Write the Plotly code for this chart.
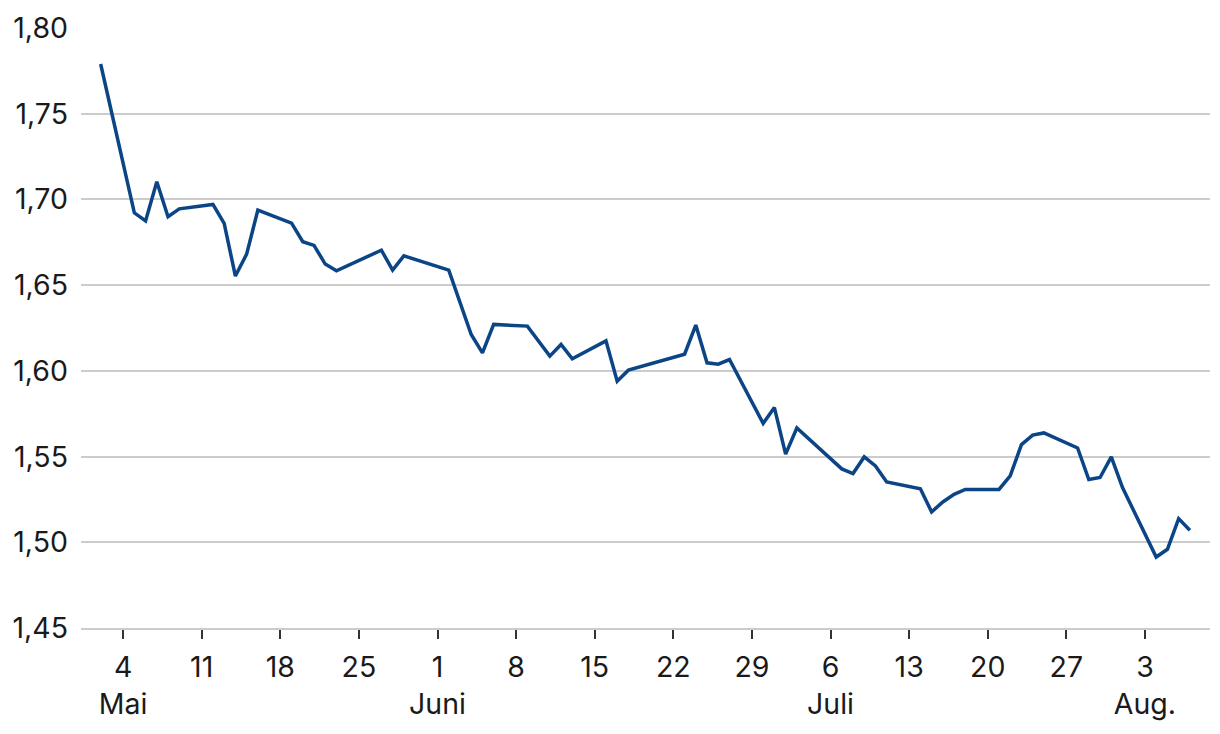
import plotly.graph_objects as go

dates = [
    "2025-05-02", "2025-05-05", "2025-05-06", "2025-05-07", "2025-05-08", "2025-05-09",
    "2025-05-12", "2025-05-13", "2025-05-14", "2025-05-15", "2025-05-16",
    "2025-05-19", "2025-05-20", "2025-05-21", "2025-05-22", "2025-05-23",
    "2025-05-27", "2025-05-28", "2025-05-29",
    "2025-06-02", "2025-06-04", "2025-06-05", "2025-06-06",
    "2025-06-09", "2025-06-11", "2025-06-12", "2025-06-13",
    "2025-06-16", "2025-06-17", "2025-06-18",
    "2025-06-23", "2025-06-24", "2025-06-25", "2025-06-26", "2025-06-27",
    "2025-06-30", "2025-07-01", "2025-07-02", "2025-07-03",
    "2025-07-07", "2025-07-08", "2025-07-09", "2025-07-10", "2025-07-11",
    "2025-07-14", "2025-07-15", "2025-07-16", "2025-07-17", "2025-07-18",
    "2025-07-21", "2025-07-22", "2025-07-23", "2025-07-24", "2025-07-25",
    "2025-07-28", "2025-07-29", "2025-07-30", "2025-07-31", "2025-08-01",
    "2025-08-04", "2025-08-05", "2025-08-06", "2025-08-07",
]
values = [
    1.7790, 1.6922, 1.6875, 1.7103, 1.6899, 1.6945,
    1.6971, 1.6860, 1.6553, 1.6681, 1.6938,
    1.6862, 1.6753, 1.6732, 1.6623, 1.6584,
    1.6704, 1.6588, 1.6671,
    1.6588, 1.6212, 1.6105, 1.6271,
    1.6261, 1.6086, 1.6154, 1.6070,
    1.6175, 1.5940, 1.6004,
    1.6097, 1.6267, 1.6047, 1.6039, 1.6066,
    1.5693, 1.5786, 1.5514, 1.5667,
    1.5428, 1.5401, 1.5498, 1.5445, 1.5352,
    1.5312, 1.5177, 1.5235, 1.5280, 1.5308,
    1.5308, 1.5387, 1.5570, 1.5625, 1.5638,
    1.5550, 1.5366, 1.5378, 1.5498, 1.5319,
    1.4914, 1.4959, 1.5138, 1.5070,
]

tick_dates = [
    "2025-05-04", "2025-05-11", "2025-05-18", "2025-05-25",
    "2025-06-01", "2025-06-08", "2025-06-15", "2025-06-22", "2025-06-29",
    "2025-07-06", "2025-07-13", "2025-07-20", "2025-07-27",
    "2025-08-03",
]
tick_labels = [
    "4<br>Mai", "11", "18", "25",
    "1<br>Juni", "8", "15", "22", "29",
    "6<br>Juli", "13", "20", "27",
    "3<br>Aug.",
]
y_ticks = [1.45, 1.50, 1.55, 1.60, 1.65, 1.70, 1.75, 1.80]

FONT = "Inter, Roboto, sans-serif"
TEXT = "#1a1a1a"
GRID = "#cccccc"
FS = 28.5

fig = go.Figure()
fig.add_trace(go.Scatter(
    x=dates, y=values, mode="lines",
    line=dict(color="#0b4586", width=3.5),
    hoverinfo="skip", showlegend=False,
))

fig.update_layout(
    width=1220, height=734,
    margin=dict(l=81, r=10, t=28, b=106),
    paper_bgcolor="white", plot_bgcolor="white",
    separators=",.",
    font=dict(family=FONT, size=FS, color=TEXT),
    xaxis=dict(
        type="date",
        range=["2025-04-30 06:00", "2025-08-08 19:00"],
        tickmode="array", tickvals=tick_dates, ticktext=tick_labels,
        ticks="outside", ticklen=9, tickwidth=2, tickcolor="#333333",
        showgrid=False, zeroline=False,
        showline=True, linecolor=GRID, linewidth=1.5,
        ticklabelstandoff=4,
        automargin=False,
        tickfont=dict(family=FONT, size=FS, color=TEXT),
    ),
    yaxis=dict(
        range=[1.45, 1.80],
        tickmode="array", tickvals=y_ticks, tickformat=".2f",
        showgrid=True, gridcolor=GRID, gridwidth=1.5,
        zeroline=False, showline=False, ticks="",
        ticklabelstandoff=12,
        automargin=False,
        tickfont=dict(family=FONT, size=FS, color=TEXT),
    ),
)

fig.write_html(
    "out.html",
    config={"displayModeBar": False},
    post_script="document.body.style.margin='0';document.body.style.overflow='hidden';",
)
